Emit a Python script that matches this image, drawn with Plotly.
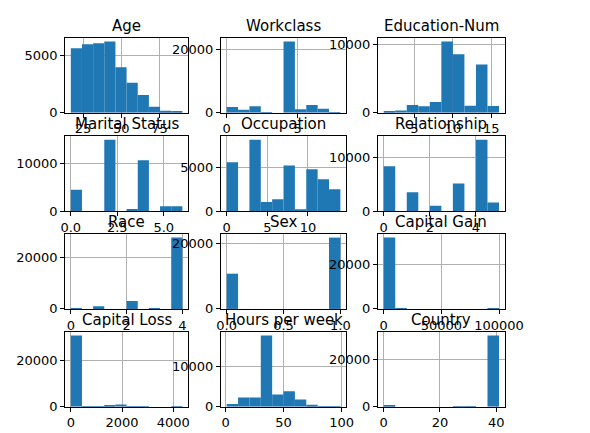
import numpy as np
import plotly.graph_objects as go

titles = ["Age", "Workclass", "Education-Num", "Marital Status", "Occupation", "Relationship",
          "Race", "Sex", "Capital Gain", "Capital Loss", "Hours per week", "Country"]
lows = [17, 0, 1, 0, 0, 0, 0, 0, 0, 0, 1, 0]
highs = [90, 8, 16, 6, 14, 5, 4, 1, 99999, 4356, 99, 41]
counts = [
    [5600, 5950, 6050, 6200, 3950, 2600, 1550, 520, 170, 80],
    [1850, 960, 2100, 10, 0, 22700, 1100, 2500, 1300, 14],
    [220, 330, 1150, 950, 1600, 10500, 8600, 1050, 7100, 1000],
    [4450, 0, 0, 14950, 0, 420, 10650, 0, 1000, 1000],
    [5600, 0, 8200, 1050, 1350, 5250, 150, 4800, 3650, 2500],
    [8300, 0, 3500, 0, 980, 0, 5100, 0, 13200, 1570],
    [310, 0, 1040, 0, 0, 3120, 0, 270, 0, 27800],
    [10770, 0, 0, 0, 0, 0, 0, 0, 0, 21790],
    [31800, 390, 0, 0, 0, 0, 0, 0, 0, 160],
    [31050, 30, 20, 500, 950, 40, 10, 0, 0, 5],
    [730, 2300, 2300, 17900, 3100, 3900, 1800, 500, 220, 150],
    [800, 0, 0, 0, 0, 0, 300, 300, 0, 29900],
]
xticks = [[25, 50, 75], [0, 5], [5, 10, 15], [0, 2.5, 5], [0, 5, 10], [0, 2, 4],
          [0, 2, 4], [0, 0.5, 1], [0, 50000, 100000], [0, 2000, 4000], [0, 50, 100], [0, 20, 40]]
xticktext = [None, None, None, ["0.0", "2.5", "5.0"], None, None,
             None, ["0.0", "0.5", "1.0"], None, None, None, None]
yticks = [[0, 5000], [0, 20000], [0, 10000], [0, 10000], [0, 5000], [0, 10000],
          [0, 20000], [0, 20000], [0, 20000], [0, 20000], [0, 10000], [0, 20000]]

xdom = [(0.097, 0.305), (0.361, 0.573), (0.627, 0.842)]
ydom = [(0.758, 0.931), (0.531, 0.704), (0.305, 0.478), (0.079, 0.252)]

fig = go.Figure()
layout = {}
for i, t in enumerate(titles):
    r, c = divmod(i, 3)
    n = "" if i == 0 else str(i + 1)
    edges = np.linspace(lows[i], highs[i], 11)
    centers = (edges[:-1] + edges[1:]) / 2
    w = edges[1] - edges[0]
    fig.add_trace(go.Bar(x=centers, y=counts[i], width=w, marker_color="#1f77b4",
                         marker_line_width=0, xaxis="x" + n, yaxis="y" + n, showlegend=False))
    span = highs[i] - lows[i]
    common = dict(showline=True, linecolor="black", linewidth=1, mirror=True, ticks="outside",
                  ticklen=4, tickcolor="black", showgrid=True, gridcolor="#b0b0b0",
                  zeroline=False, automargin=False, tickformat="d",
                  tickfont=dict(size=13, color="black"))
    xa = dict(common, domain=xdom[c], anchor="y" + n, range=[lows[i] - 0.05 * span, highs[i] + 0.05 * span],
              tickvals=xticks[i])
    if xticktext[i]:
        xa["ticktext"] = xticktext[i]
    ya = dict(common, domain=ydom[r], anchor="x" + n, range=[0, max(counts[i]) * 1.05],
              tickvals=yticks[i])
    layout["xaxis" + n] = xa
    layout["yaxis" + n] = ya
    fig.add_annotation(text=t, x=sum(xdom[c]) / 2, y=ydom[r][1], xref="paper", yref="paper",
                       xanchor="center", yanchor="bottom", yshift=1, showarrow=False,
                       font=dict(size=15, color="black"))

fig.update_layout(**layout, width=590, height=433, margin=dict(l=0, r=0, t=0, b=0),
                  plot_bgcolor="white", paper_bgcolor="white",
                  font=dict(family="DejaVu Sans", color="black"))
fig.write_html("out.html")
